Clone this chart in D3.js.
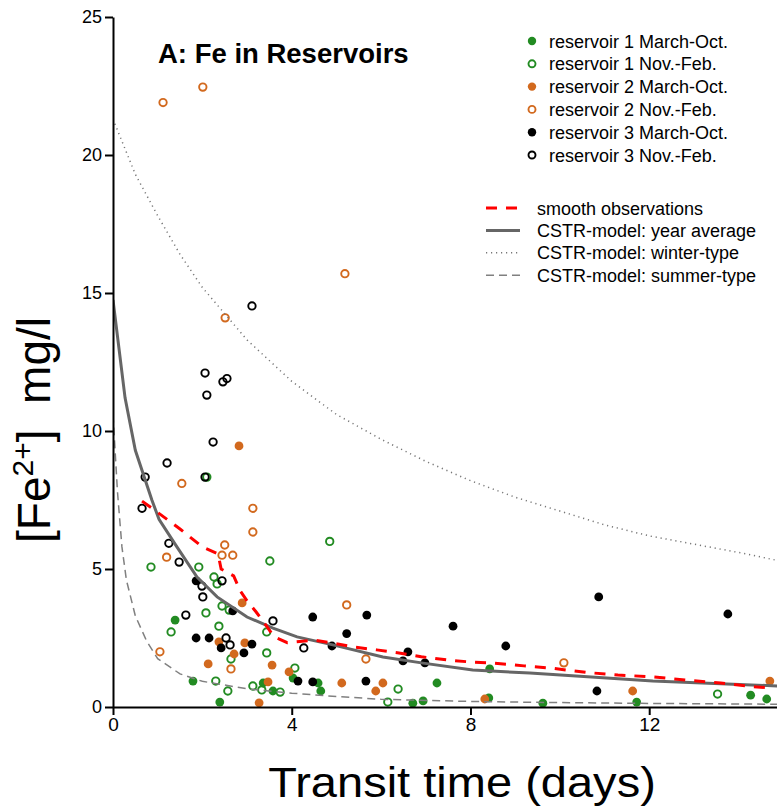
<!DOCTYPE html>
<html>
<head>
<meta charset="utf-8">
<script src="https://cdn.jsdelivr.net/npm/d3@7"></script>
<style>
body { margin:0; background:#fff; }
text { font-family: "Liberation Sans", Arial, sans-serif; fill:#000; }
</style>
</head>
<body>
<div id="chart"></div>
<script>
// observations: [transit time (days), Fe2+ (mg/l)]
var res1Summer = [[1.39,3.15],[1.79,0.94],[2.39,0.18],[4.03,1.05],[3.36,0.87],[3.58,0.58],[4.59,0.87],[4.65,0.58],
  [7.25,0.87],[6.71,0.14],[6.94,0.22],[8.43,1.38],[8.41,0.33],[9.62,0.14],[11.72,0.18],[14.27,0.43],[14.63,0.29]];
var res1Winter = [[4.85,6.0],[2.1,8.33],[0.85,5.07],[1.92,5.07],[3.51,5.29],[2.26,4.71],[2.33,4.46],[2.44,3.66],
  [2.6,3.51],[2.08,3.41],[2.37,2.93],[1.3,2.72],[3.44,2.72],[3.44,1.96],[2.64,1.74],[4.07,1.41],[2.3,0.94],
  [2.57,0.58],[3.13,0.76],[3.33,0.62],[3.74,0.54],[6.38,0.65],[6.15,0.18],[13.53,0.47]];
var res2Summer = [[2.82,9.46],[2.89,3.77],[2.37,2.36],[2.95,2.32],[2.71,1.92],[2.13,1.56],[3.56,1.52],[3.94,1.27],
  [3.47,0.91],[3.27,0.15],[5.12,0.87],[5.88,0.58],[6.04,0.87],[8.32,0.29],[11.63,0.58],[14.7,0.94]];
var res2Winter = [[1.12,21.9],[2.01,22.46],[5.19,15.7],[2.51,14.1],[1.54,8.1],[3.13,7.2],[3.13,6.34],[2.5,5.87],
  [2.44,5.5],[2.68,5.5],[1.2,5.43],[1.05,2.0],[2.64,1.38],[5.23,3.7],[5.66,1.74],[10.09,1.6]];
var res3Summer = [[1.86,4.57],[2.68,3.48],[1.86,2.5],[2.15,2.5],[2.42,2.14],[3.11,2.28],[2.93,1.96],[4.14,0.94],
  [4.47,3.26],[5.23,2.66],[4.9,2.21],[4.47,0.91],[5.68,3.33],[6.6,2.0],[6.49,1.67],[6.98,1.6],[7.61,2.93],
  [8.79,2.21],[5.66,0.94],[10.87,3.99],[13.76,3.37],[10.83,0.58]];
var res3Winter = [[3.11,14.53],[2.06,12.1],[2.55,11.9],[2.46,11.78],[2.1,11.3],[2.24,9.6],[1.21,8.84],[0.72,8.33],
  [2.06,8.33],[0.65,7.2],[1.25,5.93],[1.48,5.25],[2.44,4.57],[1.99,4.38],[2.01,3.99],[1.63,3.33],[3.58,3.12],
  [2.53,2.5],[2.62,2.25],[4.27,2.14]];

// curves
var smoothObs = [[0.65,7.46],[1.0,7.05],[1.5,6.45],[2.0,5.8],[2.35,5.55],[2.42,5.0],[2.7,4.75],[2.85,4.2],[3.0,3.85],
  [3.2,3.45],[3.45,2.9],[3.6,2.55],[3.9,2.33],[4.5,2.42],[4.9,2.32],[5.4,2.17],[5.9,2.07],[6.4,1.96],[6.9,1.82],
  [7.5,1.7],[8.0,1.63],[8.5,1.59],[9.2,1.49],[9.8,1.41],[10.6,1.25],[11.3,1.16],[12.1,1.09],[12.8,0.98],
  [13.6,0.87],[14.3,0.74],[14.7,0.69]];
var cstrYear = [[0,14.75],[0.27,11.2],[0.5,9.3],[0.87,7.5],[1.03,6.8],[1.43,5.8],[1.88,4.71],[2.33,3.99],[3.0,3.26],
  [3.58,2.86],[4.12,2.54],[4.92,2.25],[6.04,1.81],[6.94,1.59],[8.05,1.34],[9.33,1.23],[12.08,0.94],[14.9,0.76]];
var cstrWinter = [[0,21.3],[0.5,19.3],[1,17.8],[1.5,16.4],[2,15.2],[3,13.3],[4,11.8],[5,10.6],[6,9.7],[7,8.9],
  [8,8.2],[9,7.6],[10,7.1],[11,6.6],[12,6.2],[13,5.9],[14,5.6],[14.9,5.3]];
var cstrSummer = [[0,10.6],[0.1,7.8],[0.2,5.8],[0.3,4.6],[0.5,3.3],[0.75,2.4],[1,1.75],[1.5,1.2],[2,0.93],[3,0.66],
  [4,0.5],[5,0.38],[6,0.28],[8,0.2],[10,0.16],[12,0.13],[14.9,0.1]];

var xTicks = [0, 4, 8, 12];
var yTicks = [0, 5, 10, 15, 20, 25];
var pointLabels = ['reservoir 1 March-Oct.', 'reservoir 1 Nov.-Feb.', 'reservoir 2 March-Oct.',
  'reservoir 2 Nov.-Feb.', 'reservoir 3 March-Oct.', 'reservoir 3 Nov.-Feb.'];
var lineLabels = ['smooth observations', 'CSTR-model: year average', 'CSTR-model: winter-type', 'CSTR-model: summer-type'];

var green = '#228b22', orange = '#d2691e';

var groups = [
  {data: res1Summer, color: green, filled: true},
  {data: res1Winter, color: green, filled: false},
  {data: res2Summer, color: orange, filled: true},
  {data: res2Winter, color: orange, filled: false},
  {data: res3Summer, color: '#000', filled: true},
  {data: res3Winter, color: '#000', filled: false}
];
var curves = [
  {data: smoothObs, color: '#ff0000', width: 3, dash: '11,9'},
  {data: cstrYear, color: '#666', width: 3, dash: null},
  {data: cstrWinter, color: '#777', width: 1.5, dash: '1.2,3.8'},
  {data: cstrSummer, color: '#808080', width: 1.5, dash: '8,5'}
];

var width = 777, height = 811;
var svg = d3.select('#chart').append('svg')
  .attr('width', width)
  .attr('height', height);

var x = d3.scaleLinear().domain([0, 14.86]).range([113, 777]);
var y = d3.scaleLinear().domain([0, 25]).range([707, 17]);

svg.append('clipPath').attr('id', 'plotClip')
  .append('rect')
  .attr('x', x(0)).attr('y', y(25))
  .attr('width', x(14.86) - x(0)).attr('height', y(0) - y(25));

// points first, model lines over them
var plot = svg.append('g').attr('clip-path', 'url(#plotClip)');

groups.forEach(function (g) {
  plot.append('g').selectAll('circle')
    .data(g.data)
    .enter().append('circle')
    .attr('cx', function (d) { return x(d[0]); })
    .attr('cy', function (d) { return y(d[1]); })
    .attr('r', g.filled ? 4.4 : 3.7)
    .attr('fill', g.filled ? g.color : 'none')
    .attr('stroke', g.color)
    .attr('stroke-width', g.filled ? 0 : 1.9);
});

var line = d3.line()
  .x(function (d) { return x(d[0]); })
  .y(function (d) { return y(d[1]); });

curves.slice().reverse().forEach(function (c) {
  plot.append('path')
    .datum(c.data)
    .attr('d', line)
    .attr('fill', 'none')
    .attr('stroke', c.color)
    .attr('stroke-width', c.width)
    .attr('stroke-dasharray', c.dash);
});

// axes
var xAxis = svg.append('g')
  .attr('transform', 'translate(0,' + y(0) + ')')
  .call(d3.axisBottom(x).tickValues(xTicks).tickSize(8).tickSizeOuter(0).tickPadding(3));
var yAxis = svg.append('g')
  .attr('transform', 'translate(' + x(0) + ',0)')
  .call(d3.axisLeft(y).tickValues(yTicks).tickSize(8).tickSizeOuter(0).tickPadding(3));

[xAxis, yAxis].forEach(function (a) {
  a.select('.domain').attr('stroke', '#000').attr('stroke-width', 2);
  a.selectAll('.tick line').attr('stroke', '#000').attr('stroke-width', 2);
  a.selectAll('.tick text')
    .style('font-family', '"Liberation Sans", Arial, sans-serif')
    .attr('fill', '#000');
});
xAxis.selectAll('.tick text').style('font-size', '19px');
yAxis.selectAll('.tick text').style('font-size', '18px');

// axis titles
svg.append('text')
  .attr('transform', 'translate(462,797) scale(1.12,1)')
  .attr('text-anchor', 'middle')
  .style('font-size', '42px')
  .text('Transit time (days)');

var yTitle = svg.append('text')
  .attr('transform', 'translate(50,430) rotate(-90)')
  .attr('text-anchor', 'middle')
  .style('font-size', '46px')
  .style('white-space', 'pre');
yTitle.append('tspan').text('[Fe');
yTitle.append('tspan').attr('dy', -17).style('font-size', '30px').text('2+');
yTitle.append('tspan').attr('dy', 17).text(']  mg/l');

// panel title
svg.append('text')
  .attr('x', 158).attr('y', 63)
  .style('font-size', '27.5px')
  .style('font-weight', 'bold')
  .text('A: Fe in Reservoirs');

// legend for observations
var legend1 = svg.append('g').attr('transform', 'translate(532,41)');
pointLabels.forEach(function (label, i) {
  var g = groups[i];
  var row = legend1.append('g').attr('transform', 'translate(0,' + (i * 22.8) + ')');
  row.append('circle')
    .attr('r', g.filled ? 4.2 : 3.5)
    .attr('fill', g.filled ? g.color : 'none')
    .attr('stroke', g.color)
    .attr('stroke-width', g.filled ? 0 : 1.9);
  row.append('text')
    .attr('x', 17).attr('y', 6.5)
    .style('font-size', '18px')
    .text(label);
});

// legend for curves
var legend2 = svg.append('g').attr('transform', 'translate(486,208)');
lineLabels.forEach(function (label, i) {
  var c = curves[i];
  var row = legend2.append('g').attr('transform', 'translate(0,' + (i * 22.4) + ')');
  row.append('line')
    .attr('x1', 0).attr('x2', 34)
    .attr('stroke', c.color)
    .attr('stroke-width', c.width)
    .attr('stroke-dasharray', c.dash);
  row.append('text')
    .attr('x', 51).attr('y', 6.5)
    .style('font-size', '18px')
    .text(label);
});
</script>
</body>
</html>
